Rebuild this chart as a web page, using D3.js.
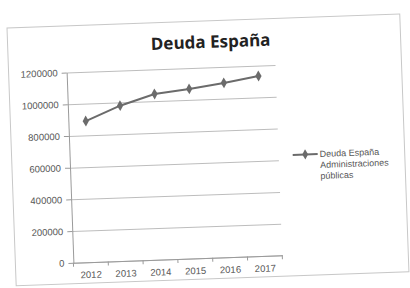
<!DOCTYPE html>
<html>
<head>
<meta charset="utf-8">
<script src="https://cdn.jsdelivr.net/npm/d3@7"></script>
<style>
  html, body { margin: 0; padding: 0; background: #ffffff; }
  svg { display: block; }
</style>
</head>
<body>
<svg id="chart" width="410" height="288"></svg>
<script>
const titleText = "Deuda España";
const years = ["2012", "2013", "2014", "2015", "2016", "2017"];
const deuda = [890000, 979000, 1045000, 1069000, 1099000, 1135000];
const yTicks = [0, 200000, 400000, 600000, 800000, 1000000, 1200000];
const legendLines = ["Deuda España", "Administraciones", "públicas"];

const svg = d3.select("#chart");
const root = svg.append("g").attr("transform", "translate(7,28) rotate(-2.04)");

// chart frame
root.append("rect")
  .attr("x", 0).attr("y", 0).attr("width", 393).attr("height", 258)
  .attr("fill", "#ffffff").attr("stroke", "#c8c8c8").attr("stroke-width", 1);

const plot = { left: 58, top: 46.6, width: 209, height: 190.4 };

const x = d3.scaleBand().domain(years).range([0, plot.width]).padding(0);
const y = d3.scaleLinear().domain([0, 1200000]).range([plot.height, 0]);

const g = root.append("g").attr("transform", `translate(${plot.left},${plot.top})`);

// gridlines
g.append("g")
  .call(d3.axisLeft(y).tickValues(yTicks).tickSize(-plot.width).tickFormat(""))
  .call(s => s.select(".domain").remove())
  .call(s => s.selectAll("line").attr("stroke", "#bdbdbd").attr("stroke-width", 1));

// y axis
g.append("g")
  .call(d3.axisLeft(y).tickValues(yTicks).tickSize(5).tickSizeOuter(0).tickPadding(4).tickFormat(d3.format("d")))
  .call(s => s.select(".domain").attr("stroke", "#9a9a9a"))
  .call(s => s.selectAll(".tick line").attr("stroke", "#9a9a9a"))
  .call(s => s.selectAll("text")
    .attr("fill", "#555")
    .style("font-family", "'Liberation Sans', Arial, sans-serif")
    .style("font-size", "9.5px"));

// x axis
const xAxis = g.append("g")
  .attr("transform", `translate(0,${plot.height})`)
  .call(d3.axisBottom(x).tickSize(0).tickSizeOuter(0).tickPadding(9))
  .call(s => s.select(".domain").attr("stroke", "#9a9a9a"))
  .call(s => s.selectAll("text")
    .attr("fill", "#555")
    .style("font-family", "'Liberation Sans', Arial, sans-serif")
    .style("font-size", "9.5px"));

// category boundary ticks
g.append("g").selectAll("line")
  .data(years.concat(["_end"]))
  .join("line")
  .attr("x1", (d, i) => i < years.length ? x(d) : x(years[years.length - 1]) + x.bandwidth())
  .attr("x2", (d, i) => i < years.length ? x(d) : x(years[years.length - 1]) + x.bandwidth())
  .attr("y1", plot.height).attr("y2", plot.height + 4)
  .attr("stroke", "#9a9a9a");

// line series
const cx = d => x(d) + x.bandwidth() / 2;
const line = d3.line()
  .x((d, i) => cx(years[i]))
  .y(d => y(d));

g.append("path")
  .datum(deuda)
  .attr("d", line)
  .attr("fill", "none")
  .attr("stroke", "#6b6b6b")
  .attr("stroke-width", 2);

g.selectAll(".pt")
  .data(deuda)
  .join("path")
  .attr("class", "pt")
  .attr("transform", (d, i) => `translate(${cx(years[i])},${y(d)})`)
  .attr("d", d3.symbol(d3.symbolDiamond, 34)())
  .attr("fill", "#6b6b6b");

// title
root.append("text")
  .attr("x", 203).attr("y", 27)
  .attr("text-anchor", "middle")
  .attr("fill", "#222")
  .style("font-family", "'Open Sans', sans-serif")
  .style("font-weight", "700")
  .style("font-size", "17px")
  .text(titleText);

// legend
const lg = root.append("g").attr("transform", "translate(281,137)");
lg.append("line").attr("x1", 0).attr("x2", 25).attr("y1", 0).attr("y2", 0)
  .attr("stroke", "#6b6b6b").attr("stroke-width", 2);
lg.append("path").attr("transform", "translate(12.5,0)")
  .attr("d", d3.symbol(d3.symbolDiamond, 30)()).attr("fill", "#6b6b6b");
lg.selectAll("text")
  .data(legendLines)
  .join("text")
  .attr("x", 27)
  .attr("y", (d, i) => 3 + i * 11)
  .attr("fill", "#555")
  .style("font-family", "'Liberation Sans', Arial, sans-serif")
  .style("font-size", "9px")
  .text(d => d);
</script>
</body>
</html>
